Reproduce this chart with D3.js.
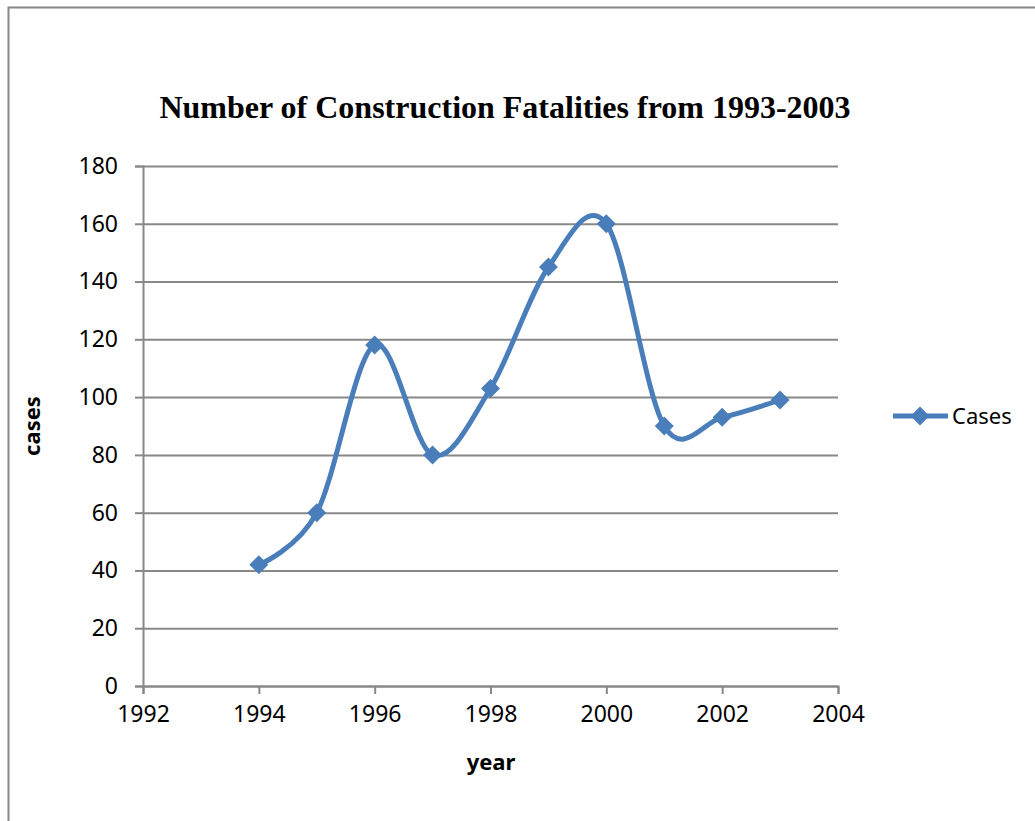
<!DOCTYPE html>
<html>
<head>
<meta charset="utf-8">
<script src="https://cdn.jsdelivr.net/npm/d3@7"></script>
<style>
  body { margin: 0; background: #fff; }
  .tick text { font-family: "Noto Sans", sans-serif; font-size: 23px; fill: #000; }
</style>
</head>
<body>
<div id="chart"></div>
<script>
// data
var years = [1994, 1995, 1996, 1997, 1998, 1999, 2000, 2001, 2002, 2003];
var cases = [42, 60, 118, 80, 103, 145, 160, 90, 93, 99];
var xTicks = [1992, 1994, 1996, 1998, 2000, 2002, 2004];
var yTicks = [0, 20, 40, 60, 80, 100, 120, 140, 160, 180];
var seriesName = "Cases";

var width = 1035, height = 821;
var plot = {left: 143, right: 838, top: 166, bottom: 686};
var blue = "#4a7ebb", grid = "#888";

var svg = d3.select("#chart").append("svg")
    .attr("width", width)
    .attr("height", height);

// outer chart frame (runs off the right and bottom edges)
svg.append("rect")
    .attr("x", 8.5).attr("y", 7.5)
    .attr("width", 1100).attr("height", 900)
    .attr("fill", "none")
    .attr("stroke", grid)
    .attr("stroke-width", 2);

var x = d3.scaleLinear().domain([1992, 2004]).range([plot.left, plot.right]);
var y = d3.scaleLinear().domain([0, 180]).range([plot.bottom, plot.top]);

// y axis with gridlines
var yAxis = svg.append("g")
    .attr("transform", "translate(" + plot.left + ",0)")
    .call(d3.axisLeft(y).tickValues(yTicks).tickSize(8).tickPadding(17));
yAxis.select(".domain").attr("stroke", grid).attr("stroke-width", 2);
yAxis.selectAll(".tick line").attr("stroke", grid).attr("stroke-width", 2);
yAxis.selectAll(".tick").append("line")
    .attr("x1", 0).attr("x2", plot.right - plot.left)
    .attr("stroke", grid).attr("stroke-width", 2);

// x axis
var xAxis = svg.append("g")
    .attr("transform", "translate(0," + plot.bottom + ")")
    .call(d3.axisBottom(x).tickValues(xTicks).tickFormat(d3.format("d")).tickSize(8).tickPadding(12));
xAxis.select(".domain").attr("stroke", grid).attr("stroke-width", 2);
xAxis.selectAll(".tick line").attr("stroke", grid).attr("stroke-width", 2);

var pts = years.map(function(d, i) { return {year: d, value: cases[i]}; });

var line = d3.line()
    .x(function(d) { return x(d.year); })
    .y(function(d) { return y(d.value); })
    .curve(d3.curveCardinal.tension(0));

svg.append("path")
    .datum(pts)
    .attr("d", line)
    .attr("fill", "none")
    .attr("stroke", blue)
    .attr("stroke-width", 5)
    .attr("stroke-linejoin", "round");

var diamond = d3.symbol().type(d3.symbolSquare).size(180);
svg.selectAll(".marker").data(pts)
  .enter().append("path")
    .attr("class", "marker")
    .attr("d", diamond)
    .attr("transform", function(d) { return "translate(" + x(d.year) + "," + y(d.value) + ") rotate(45)"; })
    .attr("fill", blue);

// title
svg.append("text")
    .attr("x", 505).attr("y", 118)
    .attr("text-anchor", "middle")
    .style("font-family", "'Liberation Serif', 'Times New Roman', serif")
    .style("font-weight", "bold")
    .style("font-size", "32px")
    .text("Number of Construction Fatalities from 1993-2003");

// axis titles
svg.append("text")
    .attr("transform", "translate(40,426) rotate(-90)")
    .attr("text-anchor", "middle")
    .style("font-family", "'Noto Sans', sans-serif")
    .style("font-weight", "bold")
    .style("font-size", "22px")
    .text("cases");
svg.append("text")
    .attr("x", 491).attr("y", 770)
    .attr("text-anchor", "middle")
    .style("font-family", "'Noto Sans', sans-serif")
    .style("font-weight", "bold")
    .style("font-size", "22px")
    .text("year");

// legend
var legend = svg.append("g").attr("transform", "translate(893,416)");
legend.append("line")
    .attr("x1", 0).attr("x2", 55)
    .attr("stroke", blue).attr("stroke-width", 5);
legend.append("path")
    .attr("d", diamond)
    .attr("transform", "translate(27,0) rotate(45)")
    .attr("fill", blue);
legend.append("text")
    .attr("x", 59).attr("y", 8)
    .style("font-family", "'Noto Sans', sans-serif")
    .style("font-size", "22px")
    .text(seriesName);
</script>
</body>
</html>
